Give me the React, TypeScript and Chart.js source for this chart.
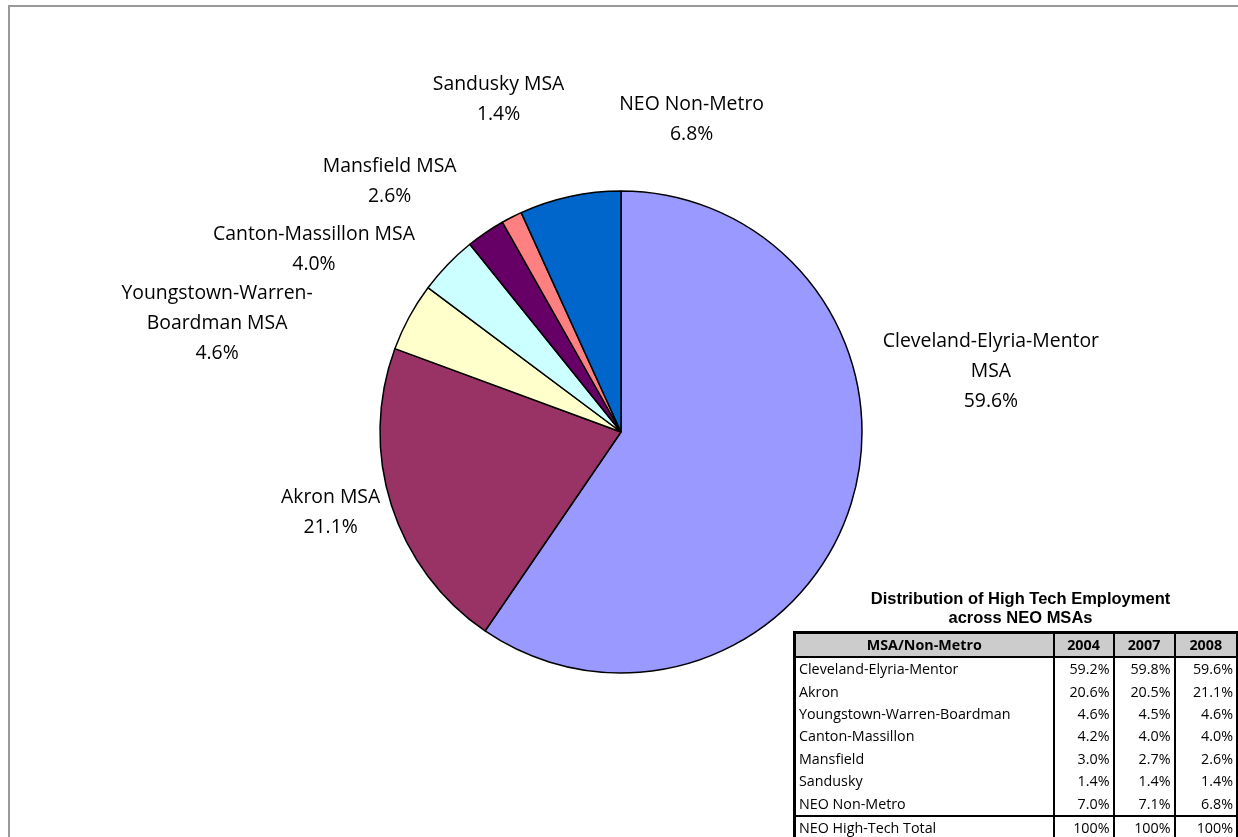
import React, { useEffect, useRef } from "react";
import { Chart, registerables } from "chart.js";

Chart.register(...registerables);

// ---- Data ----
const categories = [
  "Cleveland-Elyria-Mentor MSA",
  "Akron MSA",
  "Youngstown-Warren-Boardman MSA",
  "Canton-Massillon MSA",
  "Mansfield MSA",
  "Sandusky MSA",
  "NEO Non-Metro",
];
const labelLines = [
  ["Cleveland-Elyria-Mentor", "MSA"],
  ["Akron MSA"],
  ["Youngstown-Warren-", "Boardman MSA"],
  ["Canton-Massillon MSA"],
  ["Mansfield MSA"],
  ["Sandusky MSA"],
  ["NEO Non-Metro"],
];
const share2008 = [59.6, 21.1, 4.6, 4.0, 2.6, 1.4, 6.8];

const tableTitle = ["Distribution of High Tech Employment", "across NEO MSAs"];
const tableHeader = ["MSA/Non-Metro", "2004", "2007", "2008"];
const tableRows = [
  "Cleveland-Elyria-Mentor",
  "Akron",
  "Youngstown-Warren-Boardman",
  "Canton-Massillon",
  "Mansfield",
  "Sandusky",
  "NEO Non-Metro",
];
const values2004 = [59.2, 20.6, 4.6, 4.2, 3.0, 1.4, 7.0];
const values2007 = [59.8, 20.5, 4.5, 4.0, 2.7, 1.4, 7.1];
const values2008 = [59.6, 21.1, 4.6, 4.0, 2.6, 1.4, 6.8];
const totalLabel = "NEO High-Tech Total";
const totals = ["100%", "100%", "100%"];

// ---- Styles ----
const sliceColors = ["#9999FF", "#993366", "#FFFFCC", "#CCFFFF", "#660066", "#FF8080", "#0066CC"];
// label anchor offsets, in units of pie radius, relative to pie centre
const labelOffsets = [
  [1.535, -0.253],
  [-1.205, 0.332],
  [-1.676, -0.452],
  [-1.274, -0.759],
  [-0.96, -1.041],
  [-0.508, -1.378],
  [0.293, -1.297],
];
const LABEL_FONT = "19.4px 'Open Sans'";
const LINE_H = 30;

const labelPlugin = {
  id: "outsideLabels",
  afterDatasetsDraw(chart: any) {
    const ctx = chart.ctx;
    const arcs = chart.getDatasetMeta(0).data;
    ctx.save();
    ctx.font = LABEL_FONT;
    ctx.fillStyle = "#000";
    ctx.textAlign = "center";
    ctx.textBaseline = "middle";
    arcs.forEach((arc: any, i: number) => {
      const { x, y, outerRadius } = arc.getProps(["x", "y", "outerRadius"], true);
      const lines = [...labelLines[i], share2008[i].toFixed(1) + "%"];
      const cx = x + outerRadius * labelOffsets[i][0];
      const cy = y + outerRadius * labelOffsets[i][1];
      lines.forEach((t, k) => {
        ctx.fillText(t, cx, cy + (k - (lines.length - 1) / 2) * LINE_H);
      });
    });
    ctx.restore();
  },
};

const fmt = (v: number) => v.toFixed(1) + "%";

export default function App() {
  const ref = useRef<HTMLCanvasElement>(null);
  useEffect(() => {
    if (!ref.current) return;
    const chart = new Chart(ref.current, {
      type: "pie",
      data: {
        labels: categories,
        datasets: [
          {
            data: share2008,
            backgroundColor: sliceColors,
            borderColor: "#000",
            borderWidth: 1.5,
          },
        ],
      },
      options: {
        animation: false,
        responsive: false,
        radius: 241,
        layout: { padding: { left: 4, top: 27, right: 0, bottom: 0 } },
        plugins: { legend: { display: false }, tooltip: { enabled: false } },
      } as any,
      plugins: [labelPlugin],
    });
    return () => chart.destroy();
  }, []);

  const cellBase: React.CSSProperties = {
    padding: "0 3px",
    height: 22.4,
    lineHeight: "20px",
    whiteSpace: "nowrap",
  };
  const numCell: React.CSSProperties = {
    ...cellBase,
    textAlign: "right",
    borderLeft: "2px solid #000",
  };

  return (
    <div
      style={{
        position: "fixed",
        left: 0,
        top: 0,
        width: 1238,
        height: 837,
        overflow: "hidden",
        background: "#fff",
      }}
    >
      <div
        style={{
          position: "absolute",
          left: 8,
          top: 5,
          width: 1400,
          height: 1000,
          borderTop: "2px solid #999",
          borderLeft: "2px solid #999",
        }}
      />
      <canvas ref={ref} width={1238} height={837} style={{ position: "absolute", left: 0, top: 0 }} />
      <div
        style={{
          position: "absolute",
          left: 799,
          top: 589,
          width: 443,
          textAlign: "center",
          fontFamily: "Arial, 'Liberation Sans', sans-serif",
          fontWeight: "bold",
          fontSize: 16.5,
          lineHeight: "19px",
        }}
      >
        {tableTitle.map((t) => (
          <div key={t}>{t}</div>
        ))}
      </div>
      <table
        style={{
          position: "absolute",
          left: 793,
          top: 631,
          width: 443,
          borderCollapse: "collapse",
          border: "3px solid #000",
          fontFamily: "'Open Sans', sans-serif",
          fontSize: 14.3,
          tableLayout: "fixed",
        }}
      >
        <colgroup>
          <col style={{ width: 259 }} />
          <col style={{ width: 60 }} />
          <col style={{ width: 61 }} />
          <col style={{ width: 63 }} />
        </colgroup>
        <thead>
          <tr style={{ background: "#CCCCCC", borderBottom: "2px solid #000" }}>
            {tableHeader.map((h, i) => (
              <th
                key={h}
                style={{
                  ...cellBase,
                  height: 22,
                  textAlign: "center",
                  borderLeft: i === 0 ? undefined : "2px solid #000",
                  fontWeight: "bold",
                }}
              >
                {h}
              </th>
            ))}
          </tr>
        </thead>
        <tbody>
          {tableRows.map((r, i) => (
            <tr key={r}>
              <td style={cellBase}>{r}</td>
              <td style={numCell}>{fmt(values2004[i])}</td>
              <td style={numCell}>{fmt(values2007[i])}</td>
              <td style={numCell}>{fmt(values2008[i])}</td>
            </tr>
          ))}
          <tr style={{ borderTop: "2px solid #000" }}>
            <td style={cellBase}>{totalLabel}</td>
            {totals.map((t, i) => (
              <td key={i} style={numCell}>
                {t}
              </td>
            ))}
          </tr>
        </tbody>
      </table>
    </div>
  );
}
